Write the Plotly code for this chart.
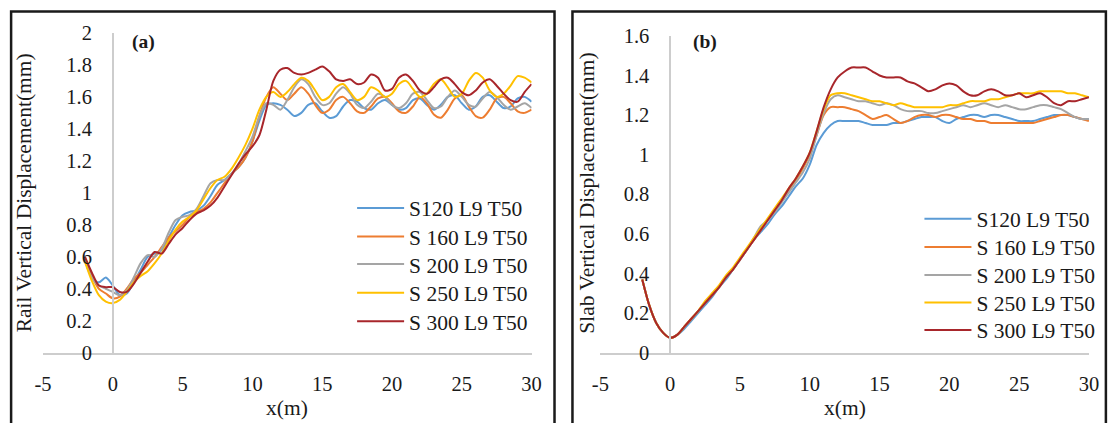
import plotly.graph_objects as go

# ---------------- data ----------------
x_pos = [-2 + 0.5 * i for i in range(65)]  # -2 ... 30 step 0.5 (m)

series_names = ["S120 L9 T50", "S 160 L9 T50", "S 200 L9 T50", "S 250 L9 T50", "S 300 L9 T50"]
colors = ["#5B9BD5", "#ED7D31", "#A5A5A5", "#FFC000", "#A8262B"]

# (a) Rail vertical displacement (mm)
rail_s120 = [0.58, 0.47, 0.44, 0.47, 0.42, 0.36, 0.37, 0.44, 0.52, 0.60, 0.62, 0.64, 0.72, 0.80, 0.86, 0.88,
             0.89, 0.92, 0.98, 1.05, 1.08, 1.12, 1.16, 1.22, 1.32, 1.45, 1.55, 1.56, 1.55, 1.52, 1.48, 1.50,
             1.55, 1.56, 1.51, 1.47, 1.48, 1.54, 1.58, 1.57, 1.53, 1.52, 1.56, 1.58, 1.55, 1.52, 1.53, 1.58,
             1.59, 1.55, 1.52, 1.55, 1.60, 1.61, 1.56, 1.52, 1.54, 1.60, 1.61, 1.57, 1.53, 1.54, 1.59, 1.60, 1.57]
rail_s160 = [0.59, 0.48, 0.40, 0.37, 0.34, 0.35, 0.40, 0.46, 0.50, 0.55, 0.60, 0.66, 0.72, 0.76, 0.80, 0.85,
             0.88, 0.90, 0.94, 1.00, 1.06, 1.12, 1.16, 1.22, 1.32, 1.48, 1.60, 1.66, 1.62, 1.58, 1.62, 1.66,
             1.62, 1.55, 1.50, 1.52, 1.58, 1.60, 1.56, 1.51, 1.50, 1.54, 1.59, 1.60, 1.56, 1.51, 1.50, 1.54,
             1.60, 1.56, 1.49, 1.47, 1.52, 1.59, 1.61, 1.54, 1.48, 1.47, 1.52, 1.59, 1.60, 1.56, 1.51, 1.50, 1.52]
rail_s200 = [0.58, 0.47, 0.42, 0.40, 0.38, 0.36, 0.39, 0.47, 0.56, 0.61, 0.60, 0.65, 0.75, 0.83, 0.85, 0.86,
             0.90, 0.98, 1.06, 1.08, 1.08, 1.12, 1.18, 1.26, 1.35, 1.48, 1.56, 1.55, 1.52, 1.58, 1.66, 1.71,
             1.68, 1.60, 1.55, 1.56, 1.62, 1.66, 1.62, 1.55, 1.53, 1.57, 1.62, 1.60, 1.55, 1.53, 1.56, 1.62,
             1.63, 1.58, 1.53, 1.54, 1.60, 1.64, 1.60, 1.55, 1.54, 1.59, 1.63, 1.60, 1.55, 1.52, 1.54, 1.56, 1.53]
rail_s250 = [0.57, 0.45, 0.36, 0.32, 0.31, 0.33, 0.38, 0.44, 0.48, 0.51, 0.56, 0.62, 0.70, 0.77, 0.82, 0.85,
             0.89, 0.96, 1.03, 1.08, 1.10, 1.15, 1.22, 1.30, 1.40, 1.52, 1.60, 1.63, 1.60, 1.63, 1.68, 1.72,
             1.70, 1.64, 1.58, 1.60, 1.66, 1.68, 1.63, 1.58, 1.60, 1.66, 1.64, 1.60, 1.62, 1.68, 1.70, 1.65,
             1.60, 1.62, 1.68, 1.71, 1.66, 1.60, 1.62, 1.70, 1.75, 1.72, 1.64, 1.60, 1.62, 1.67, 1.73, 1.72, 1.69]
rail_s300 = [0.60, 0.50, 0.42, 0.41, 0.41, 0.38, 0.38, 0.43, 0.50, 0.57, 0.63, 0.62, 0.68, 0.74, 0.78, 0.83,
             0.87, 0.89, 0.92, 0.97, 1.04, 1.11, 1.18, 1.24, 1.29, 1.36, 1.52, 1.70, 1.77, 1.78, 1.75, 1.74,
             1.75, 1.77, 1.79, 1.76, 1.71, 1.70, 1.71, 1.68, 1.69, 1.74, 1.72, 1.64, 1.65, 1.72, 1.74, 1.70,
             1.64, 1.62, 1.66, 1.71, 1.72, 1.68, 1.63, 1.61, 1.64, 1.69, 1.71, 1.67, 1.62, 1.58, 1.57, 1.63, 1.68]

# (b) Slab vertical displacement (mm)
slab_s120 = [0.37, 0.24, 0.15, 0.10, 0.075, 0.09, 0.12, 0.16, 0.20, 0.24, 0.28, 0.33, 0.37, 0.42, 0.47, 0.52,
             0.57, 0.61, 0.65, 0.70, 0.74, 0.79, 0.84, 0.88, 0.95, 1.05, 1.11, 1.15, 1.17, 1.17, 1.17, 1.17,
             1.16, 1.15, 1.15, 1.15, 1.16, 1.16, 1.17, 1.18, 1.19, 1.19, 1.19, 1.17, 1.16, 1.18, 1.19, 1.20,
             1.20, 1.19, 1.20, 1.20, 1.19, 1.18, 1.17, 1.17, 1.17, 1.18, 1.19, 1.20, 1.20, 1.20, 1.19, 1.18, 1.18]
slab_s160 = [0.37, 0.24, 0.15, 0.10, 0.075, 0.09, 0.13, 0.17, 0.21, 0.25, 0.29, 0.33, 0.38, 0.42, 0.47, 0.52,
             0.57, 0.62, 0.67, 0.72, 0.77, 0.82, 0.87, 0.93, 1.00, 1.10, 1.20, 1.24, 1.24, 1.24, 1.23, 1.22,
             1.20, 1.18, 1.19, 1.20, 1.18, 1.16, 1.17, 1.19, 1.20, 1.20, 1.19, 1.20, 1.20, 1.19, 1.18, 1.18,
             1.17, 1.17, 1.16, 1.16, 1.16, 1.16, 1.16, 1.16, 1.16, 1.17, 1.18, 1.19, 1.20, 1.20, 1.19, 1.18, 1.17]
slab_s200 = [0.37, 0.24, 0.15, 0.10, 0.075, 0.09, 0.13, 0.17, 0.21, 0.25, 0.29, 0.33, 0.38, 0.42, 0.47, 0.52,
             0.58, 0.64, 0.67, 0.71, 0.76, 0.81, 0.86, 0.91, 0.98, 1.10, 1.21, 1.28, 1.30, 1.29, 1.28, 1.27,
             1.27, 1.26, 1.25, 1.26, 1.25, 1.23, 1.22, 1.22, 1.22, 1.21, 1.21, 1.22, 1.23, 1.24, 1.25, 1.24,
             1.25, 1.26, 1.25, 1.24, 1.25, 1.24, 1.23, 1.23, 1.24, 1.25, 1.25, 1.24, 1.23, 1.21, 1.19, 1.18, 1.18]
slab_s250 = [0.37, 0.24, 0.15, 0.10, 0.075, 0.09, 0.13, 0.17, 0.21, 0.26, 0.30, 0.34, 0.39, 0.43, 0.48, 0.53,
             0.58, 0.63, 0.68, 0.73, 0.78, 0.83, 0.88, 0.94, 1.01, 1.12, 1.23, 1.30, 1.31, 1.31, 1.30, 1.29,
             1.28, 1.27, 1.27, 1.26, 1.25, 1.26, 1.25, 1.24, 1.24, 1.24, 1.24, 1.24, 1.25, 1.25, 1.26, 1.27,
             1.27, 1.27, 1.28, 1.28, 1.29, 1.30, 1.31, 1.31, 1.31, 1.32, 1.32, 1.32, 1.32, 1.31, 1.31, 1.30, 1.29]
slab_s300 = [0.37, 0.24, 0.15, 0.10, 0.075, 0.09, 0.13, 0.17, 0.21, 0.25, 0.29, 0.33, 0.38, 0.42, 0.47, 0.52,
             0.57, 0.62, 0.67, 0.72, 0.77, 0.83, 0.88, 0.94, 1.01, 1.12, 1.24, 1.33, 1.39, 1.42, 1.44, 1.44,
             1.44, 1.42, 1.40, 1.39, 1.39, 1.39, 1.37, 1.36, 1.34, 1.32, 1.33, 1.35, 1.36, 1.35, 1.32, 1.30,
             1.30, 1.32, 1.33, 1.32, 1.30, 1.30, 1.31, 1.29, 1.30, 1.31, 1.29, 1.26, 1.25, 1.27, 1.27, 1.28, 1.29]

x_ticks = [-5, 0, 5, 10, 15, 20, 25, 30]
x_ticklabels = ["-5", "0", "5", "10", "15", "20", "25", "30"]
rail_ticks = [0, 0.2, 0.4, 0.6, 0.8, 1, 1.2, 1.4, 1.6, 1.8, 2]
slab_ticks = [0, 0.2, 0.4, 0.6, 0.8, 1, 1.2, 1.4, 1.6]

rail_series = [rail_s120, rail_s160, rail_s200, rail_s250, rail_s300]
slab_series = [slab_s120, slab_s160, slab_s200, slab_s250, slab_s300]

# ---------------- figure ----------------
W, H = 1117, 423
# The page keeps the browser's default 8px body margin and the photo is scaled
# back to the window size, so layout positions (given below in photo pixels)
# are mapped through that page geometry.
PAGE_MARGIN = 8
SX = W / (W + 2 * PAGE_MARGIN)
SY = H / (H + 2 * PAGE_MARGIN)
FONT = "Liberation Serif, Times New Roman, serif"
AXIS_GRAY = "#CDCDCD"
TXT = "#1a1a1a"


def px(v):
    return (v / SX - PAGE_MARGIN) / W


def py(v):
    return (H - (v / SY - PAGE_MARGIN)) / H


fig = go.Figure()

legend_rows_a = [208, 237, 265, 294, 323]
legend_rows_b = [219, 247.5, 276, 304, 332]
legend_layouts = {}
k = 0
for series, rows, lx, xa, ya in [(rail_series, legend_rows_a, 352, "x", "y"),
                                 (slab_series, legend_rows_b, 921, "x2", "y2")]:
    for name, ys, c, row in zip(series_names, series, colors, rows):
        k += 1
        lname = "legend" if k == 1 else f"legend{k}"
        fig.add_trace(go.Scatter(x=x_pos, y=ys, name=name, mode="lines",
                                 line=dict(color=c, width=2, shape="spline", smoothing=0.8),
                                 xaxis=xa, yaxis=ya, legend=lname))
        legend_layouts[lname] = dict(x=px(lx), y=py(row), xanchor="left", yanchor="middle",
                                     bgcolor="rgba(0,0,0,0)", borderwidth=0,
                                     font=dict(family=FONT, size=21.5, color=TXT), itemwidth=47)

common_x = dict(range=[-5, 30], tickvals=x_ticks, ticktext=x_ticklabels, showline=True,
                linecolor=AXIS_GRAY, linewidth=1.5, showgrid=False, zeroline=False, ticks="",
                ticklabelstandoff=12, tickfont=dict(family=FONT, size=20.5, color=TXT))
common_y = dict(showline=True, linecolor=AXIS_GRAY, linewidth=1.5, showgrid=False, zeroline=False,
                ticks="", ticklabelstandoff=16, anchor="free",
                tickfont=dict(family=FONT, size=20.5, color=TXT))

fig.update_layout(
    width=W, height=H,
    autosize=False,
    margin=dict(l=0, r=0, t=0, b=0),
    paper_bgcolor="white", plot_bgcolor="white",
    font=dict(family=FONT, color=TXT),
    xaxis=dict(domain=[px(42), px(532)], anchor="y", **common_x),
    yaxis=dict(domain=[py(355), py(30)], range=[0, 2], tickvals=rail_ticks, position=px(112), **common_y),
    xaxis2=dict(domain=[px(601), px(1091)], anchor="y2", **common_x),
    yaxis2=dict(domain=[py(355), py(33)], range=[0, 1.6], tickvals=slab_ticks, position=px(671), **common_y),
    showlegend=True,
    **legend_layouts,
)

# panel frames
for x0, x1 in [(10, 555), (573, 1108)]:
    fig.add_shape(type="rect", xref="paper", yref="paper", x0=px(x0), x1=px(x1), y0=-0.1, y1=py(8.2),
                  line=dict(color="#1a1a1a", width=2.5), fillcolor="rgba(0,0,0,0)", layer="above")

annots = [
    dict(text="Rail Vertical Displacement(mm)", x=px(23), y=py(193), textangle=-90, size=21.5),
    dict(text="Slab Vertical Displacement(mm)", x=px(588), y=py(193), textangle=-90, size=21.5),
    dict(text="x(m)", x=px(287), y=py(411), textangle=0, size=21.5),
    dict(text="x(m)", x=px(846), y=py(411), textangle=0, size=21.5),
    dict(text="<b>(a)</b>", x=px(143), y=py(39), textangle=0, size=19.5),
    dict(text="<b>(b)</b>", x=px(706), y=py(39), textangle=0, size=19.5),
]
for a in annots:
    fig.add_annotation(text=a["text"], x=a["x"], y=a["y"], xref="paper", yref="paper",
                       xanchor="center", yanchor="middle", textangle=a["textangle"], showarrow=False,
                       font=dict(family=FONT, size=a["size"], color=TXT))

fig.write_html("out.html")
